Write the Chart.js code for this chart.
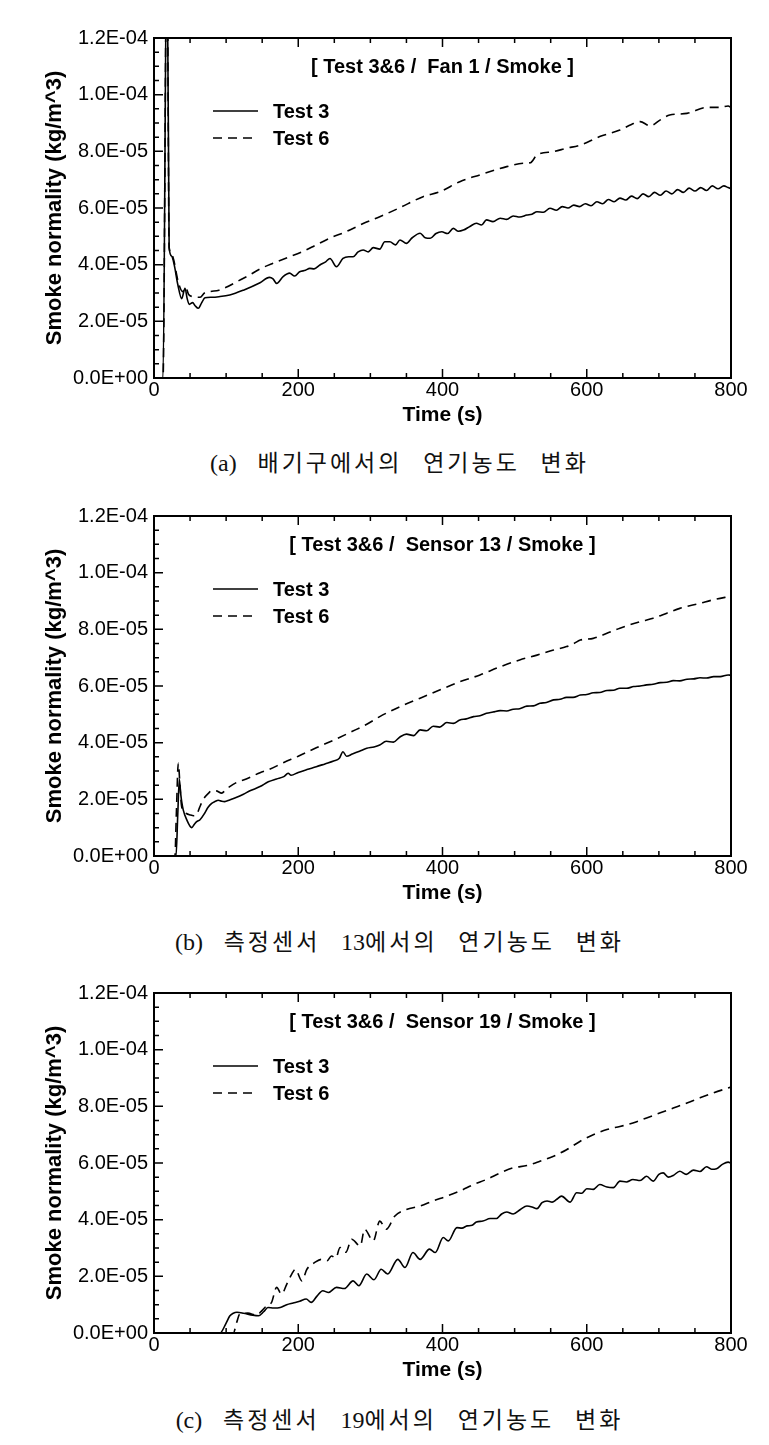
<!DOCTYPE html>
<html>
<head>
<meta charset="utf-8">
<script src="https://cdn.jsdelivr.net/npm/chart.js@4.4.1/dist/chart.umd.min.js"></script>
<style>
body { margin: 0; background: #fff; width: 769px; height: 1445px; position: relative; overflow: hidden; }
canvas { position: absolute; left: 0; }
.cap {
  position: absolute; left: 15px; width: 769px; text-align: center;
  font-family: "Liberation Serif", "Noto Sans CJK KR", serif; font-size: 23px;
  line-height: 30px; letter-spacing: 3px; word-spacing: 12px; color: #111;
}
.cap span { letter-spacing: 0; font-size: 24px; }
</style>
</head>
<body>
<canvas id="fanChart" width="769" height="440" style="top:0px"></canvas>
<div class="cap" style="top:448px"><span>(a)</span> 배기구에서의 연기농도 변화</div>
<canvas id="s13Chart" width="769" height="440" style="top:478px"></canvas>
<div class="cap" style="top:927px"><span>(b)</span> 측정센서 <span>13</span>에서의 연기농도 변화</div>
<canvas id="s19Chart" width="769" height="440" style="top:955px"></canvas>
<div class="cap" style="top:1405px"><span>(c)</span> 측정센서 <span>19</span>에서의 연기농도 변화</div>
<script>
// values in units of 1E-05 kg/m^3, [time (s), value]
const fanTest3 = [[0,0],[12.5,0],[18,16],[21,4.6],[24.5,4.3],[28,4.0],[33,3.3],[38.4,2.8],[43,3.17],[46,2.8],[49,2.6],[53.6,2.66],[57,2.55],[61.5,2.46],[66,2.65],[70.7,2.83],[80,2.85],[90,2.87],[105,2.93],[124,3.1],[147,3.36],[160,3.55],[165,3.5],[170,3.34],[179,3.58],[188,3.7],[195,3.6],[202,3.75],[210,3.8],[216,3.87],[222,3.85],[230,3.99],[238,4.1],[244,4.22],[253,3.93],[262,4.22],[270,4.28],[276,4.28],[283,4.45],[290,4.52],[297,4.45],[304,4.6],[313,4.55],[320,4.81],[327,4.81],[335,4.7],[341,4.87],[350,4.75],[358,4.95],[369,5.11],[376,4.95],[383,4.93],[391,5.1],[399,5.16],[407,5.1],[415,5.28],[422,5.18],[429,5.22],[438,5.35],[447,5.46],[454,5.4],[461,5.58],[470,5.52],[480,5.64],[489,5.6],[498,5.72],[507,5.68],[517,5.75],[524,5.78],[531,5.87],[540,5.85],[549,5.99],[558,5.92],[566,6.05],[574,6.0],[582,6.1],[590,6.05],[598,6.15],[606,6.08],[614,6.22],[622,6.15],[630,6.3],[638,6.22],[646,6.35],[654,6.28],[662,6.42],[670,6.33],[678,6.5],[686,6.4],[694,6.55],[702,6.45],[710,6.6],[718,6.5],[726,6.65],[734,6.55],[742,6.7],[750,6.6],[758,6.72],[766,6.62],[774,6.78],[782,6.68],[790,6.78],[796,6.72],[800,6.68]];
const fanTest6 = [[0,0],[12.5,0],[18,16],[21,4.6],[24,4.4],[27,4.2],[34,3.35],[40,3.05],[44,3.2],[48,2.95],[55,2.87],[64,2.85],[70,3.0],[78,3.05],[90,3.1],[100,3.2],[115,3.4],[130,3.6],[147,3.85],[165,4.05],[185,4.25],[205,4.45],[225,4.7],[245,4.95],[265,5.15],[290,5.45],[313,5.69],[340,6.0],[373,6.4],[397,6.58],[424,6.93],[452,7.17],[489,7.46],[512,7.58],[522,7.6],[531,7.87],[554,7.99],[572,8.11],[591,8.22],[618,8.52],[646,8.75],[662,8.95],[674,9.05],[688,8.9],[702,9.11],[715,9.28],[739,9.34],[766,9.55],[785,9.55],[796,9.6],[800,9.55]];

const s13Test3 = [[0,0],[30.5,0],[33,1.5],[35.1,2.71],[37,2.2],[38.4,1.92],[40.6,1.62],[45,1.3],[52.3,1.0],[56,1.12],[59.2,1.21],[63.8,1.28],[70,1.5],[75,1.72],[80,1.86],[85,1.93],[89,1.97],[94,1.93],[98,1.92],[105,1.98],[114.6,2.07],[124,2.18],[133,2.3],[147,2.45],[158.5,2.62],[170,2.72],[180,2.8],[186,2.92],[190,2.85],[200,2.95],[212,3.05],[225,3.15],[237,3.25],[249,3.35],[257,3.45],[262,3.68],[267,3.52],[275,3.6],[285,3.7],[295,3.8],[305,3.85],[313,3.92],[322,4.05],[332,4.02],[341,4.2],[350,4.3],[360,4.25],[369,4.45],[378,4.42],[387,4.58],[396,4.55],[406,4.71],[415,4.68],[424,4.8],[433,4.84],[443,4.92],[452,4.95],[461,5.04],[470,5.08],[480,5.13],[489,5.12],[498,5.18],[507,5.2],[517,5.29],[526,5.3],[535,5.39],[544,5.42],[554,5.51],[563,5.53],[572,5.6],[581,5.6],[591,5.68],[600,5.7],[609,5.76],[618,5.77],[628,5.84],[637,5.85],[646,5.92],[655,5.92],[665,5.98],[674,6.0],[683,6.04],[692,6.06],[702,6.12],[711,6.13],[720,6.19],[729,6.18],[739,6.24],[748,6.25],[757,6.29],[766,6.28],[776,6.33],[785,6.33],[796,6.39],[800,6.38]];
const s13Test6 = [[0,0],[29,0],[31,1.5],[33.7,3.27],[36,2.5],[38,1.8],[40.6,1.6],[45,1.5],[50,1.45],[55,1.42],[59,1.45],[63,1.7],[68.4,2.0],[75,2.2],[80,2.3],[86,2.3],[93.8,2.22],[100,2.35],[105,2.45],[115,2.6],[124,2.68],[135,2.8],[147,2.94],[158.5,3.04],[180,3.3],[200,3.52],[225,3.82],[250,4.1],[275,4.4],[295,4.65],[313,4.92],[341,5.27],[369,5.57],[396,5.86],[424,6.15],[452,6.39],[480,6.68],[507,6.92],[531,7.09],[554,7.27],[572,7.39],[582,7.5],[591,7.62],[609,7.68],[628,7.86],[646,8.04],[674,8.27],[692,8.39],[711,8.57],[729,8.74],[757,8.92],[775,9.04],[800,9.17]];

const s19Test3 = [[0,0],[91.5,0],[100,0.35],[105,0.6],[110,0.7],[115,0.73],[124,0.7],[137,0.63],[145,0.61],[152,0.75],[158,0.9],[166,0.88],[175,0.9],[184,1.0],[193,1.06],[202,1.12],[211,1.2],[218,1.08],[226,1.3],[234,1.49],[242,1.43],[253,1.61],[264,1.57],[276,1.84],[284,1.67],[295,2.08],[305,1.88],[315,2.25],[324,2.08],[338,2.6],[348,2.31],[359,2.84],[369,2.6],[382,2.96],[390,2.84],[401,3.37],[408,3.25],[420,3.72],[427,3.7],[434,3.78],[441,3.8],[447,3.92],[456,3.95],[466,4.04],[475,4.04],[482,4.2],[489,4.27],[498,4.2],[508,4.36],[517,4.48],[524,4.45],[531,4.39],[538,4.6],[545,4.66],[552,4.62],[558,4.71],[565,4.83],[577,4.62],[586,4.95],[593,4.93],[600,5.09],[609,5.07],[618,5.24],[628,5.15],[637,5.13],[646,5.36],[655,5.33],[664,5.42],[674,5.38],[683,5.53],[692,5.36],[700,5.6],[706,5.65],[713,5.5],[720,5.56],[729,5.71],[738,5.6],[748,5.75],[757,5.7],[766,5.87],[773,5.78],[780,5.8],[788,5.95],[796,6.03],[800,6.0]];
const s19Test6 = [[0,0],[110,0],[114.6,0.37],[119,0.67],[130,0.7],[142,0.63],[150,0.8],[156,0.96],[163,1.08],[170,1.61],[177,1.37],[184,1.72],[191,2.08],[196,2.25],[205,1.84],[212,2.25],[223,2.49],[232,2.6],[240,2.55],[246,2.72],[252,2.65],[258,3.02],[266,2.85],[274,3.31],[286,3.07],[292,3.66],[304,3.25],[313,3.95],[322,3.66],[334,4.13],[350,4.36],[369,4.48],[387,4.66],[406,4.83],[424,5.01],[443,5.24],[461,5.42],[480,5.65],[498,5.83],[517,5.91],[535,6.06],[554,6.24],[572,6.47],[591,6.77],[609,7.0],[628,7.18],[646,7.29],[664,7.41],[683,7.59],[702,7.77],[720,7.94],[739,8.12],[757,8.3],[775,8.47],[800,8.68]];

const seriesNames = ['Test 3', 'Test 6'];
const xTickValues = [0, 200, 400, 600, 800];
const xTickLabels = ['0', '200', '400', '600', '800'];
const yTickValues = [0, 2, 4, 6, 8, 10, 12];
const yTickLabels = ['0.0E+00', '2.0E-05', '4.0E-05', '6.0E-05', '8.0E-05', '1.0E-04', '1.2E-04'];

Chart.defaults.font.family = '"Liberation Sans", Arial, sans-serif';
Chart.defaults.color = '#000';

// frame, inward ticks, inner title and legend
const panelPlugin = {
  id: 'panel',
  afterDatasetsDraw(chart, args, opts) {
    const ctx = chart.ctx;
    const a = chart.chartArea;
    const xs = chart.scales.x;
    const ys = chart.scales.y;
    ctx.save();
    ctx.strokeStyle = '#000';
    ctx.lineWidth = 1.5;
    ctx.setLineDash([]);
    ctx.beginPath();
    for (let v = 0; v <= 800; v += 50) {
      const px = xs.getPixelForValue(v);
      const len = v % 200 === 0 ? 9 : 5;
      ctx.moveTo(px, a.bottom); ctx.lineTo(px, a.bottom - len);
      ctx.moveTo(px, a.top); ctx.lineTo(px, a.top + len);
    }
    for (let v = 0; v <= 12; v += 0.5) {
      const py = ys.getPixelForValue(v);
      const len = v % 2 === 0 ? 9 : 5;
      ctx.moveTo(a.left, py); ctx.lineTo(a.left + len, py);
    }
    ctx.stroke();
    ctx.lineWidth = 2;
    ctx.strokeRect(a.left, a.top, a.right - a.left, a.bottom - a.top);

    ctx.fillStyle = '#000';
    ctx.font = 'bold 20px "Liberation Sans", Arial, sans-serif';
    ctx.textAlign = 'center';
    ctx.textBaseline = 'middle';
    ctx.fillText(opts.title, (a.left + a.right) / 2, a.top + 29);

    ctx.textAlign = 'left';
    chart.data.datasets.forEach((ds, i) => {
      const y = a.top + 73 + i * 27;
      ctx.lineWidth = 1.6;
      ctx.setLineDash(ds.borderDash || []);
      ctx.beginPath();
      ctx.moveTo(a.left + 59, y);
      ctx.lineTo(a.left + 104, y);
      ctx.stroke();
      ctx.setLineDash([]);
      ctx.fillText(ds.label, a.left + 119, y + 1);
    });
    ctx.restore();
  }
};

function makeChart(id, title, test3, test6) {
  return new Chart(document.getElementById(id), {
    type: 'line',
    data: {
      datasets: [{
        label: seriesNames[0],
        data: test3.map(p => ({ x: p[0], y: p[1] })),
        borderColor: '#000',
        borderWidth: 1.6,
        pointRadius: 0,
        cubicInterpolationMode: 'monotone',
        fill: false
      }, {
        label: seriesNames[1],
        data: test6.map(p => ({ x: p[0], y: p[1] })),
        borderColor: '#000',
        borderWidth: 1.6,
        borderDash: [9, 6],
        pointRadius: 0,
        cubicInterpolationMode: 'monotone',
        fill: false
      }]
    },
    options: {
      responsive: false,
      animation: false,
      devicePixelRatio: 1,
      layout: { padding: { top: 38, right: 38, left: 0, bottom: 0 } },
      plugins: {
        legend: { display: false },
        tooltip: { enabled: false },
        panel: { title: title }
      },
      scales: {
        x: {
          type: 'linear',
          min: 0,
          max: 800,
          grid: { display: false, drawTicks: false },
          border: { display: false },
          afterBuildTicks: s => { s.ticks = xTickValues.map(v => ({ value: v })); },
          afterFit: s => { s.height = 62; s.paddingLeft = 0; s.paddingRight = 0; },
          ticks: {
            autoSkip: false,
            maxRotation: 0,
            padding: 0,
            font: { size: 20 },
            callback: (v, i) => xTickLabels[i]
          },
          title: {
            display: true,
            text: 'Time (s)',
            font: { size: 21, weight: 'bold' },
            padding: { top: 0, bottom: 12 }
          }
        },
        y: {
          min: 0,
          max: 12,
          grid: { display: false, drawTicks: false },
          border: { display: false },
          afterBuildTicks: s => { s.ticks = yTickValues.map(v => ({ value: v })); },
          afterFit: s => { s.width = 154; s.paddingTop = 0; s.paddingBottom = 0; },
          ticks: {
            autoSkip: false,
            padding: 6,
            font: { size: 20 },
            callback: (v, i) => yTickLabels[i]
          },
          title: {
            display: true,
            text: 'Smoke normality (kg/m^3)',
            font: { size: 22, weight: 'bold' },
            padding: { top: 42, bottom: 0 }
          }
        }
      }
    },
    plugins: [panelPlugin]
  });
}

makeChart('fanChart', '[ Test 3&6 /  Fan 1 / Smoke ]', fanTest3, fanTest6);
makeChart('s13Chart', '[ Test 3&6 /  Sensor 13 / Smoke ]', s13Test3, s13Test6);
makeChart('s19Chart', '[ Test 3&6 /  Sensor 19 / Smoke ]', s19Test3, s19Test6);
</script>
</body>
</html>
